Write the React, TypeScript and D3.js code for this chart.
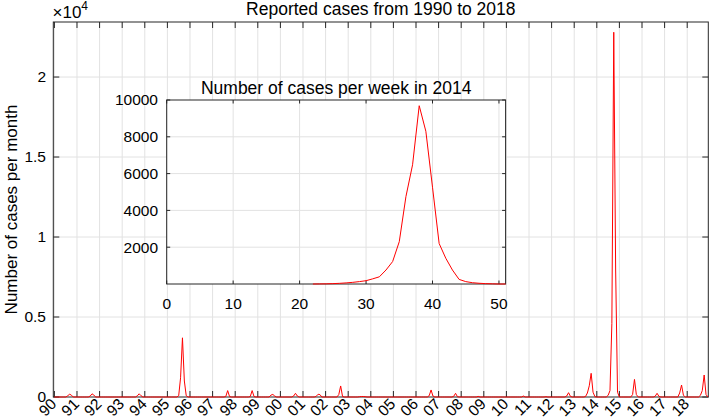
import React from 'react';
import * as d3 from 'd3';

// monthly reported cases, Jan 1990 .. Dec 2018 (one row per year)
const monthlyCases: number[] = [
  0, 0, 0, 0, 0, 0, 0, 60, 180, 120, 0, 0, // 1990
  0, 0, 0, 0, 0, 0, 0, 60, 200, 110, 0, 0, // 1991
  0, 0, 0, 0, 0, 0, 0, 0, 0, 0, 0, 0, // 1992
  0, 0, 0, 0, 0, 0, 0, 0, 70, 200, 80, 0, // 1993
  0, 0, 0, 0, 0, 0, 0, 0, 0, 0, 0, 0, // 1994
  0, 0, 0, 0, 0, 0, 80, 1200, 3700, 1000, 80, 0, // 1995
  0, 0, 0, 0, 0, 0, 0, 0, 0, 0, 0, 0, // 1996
  0, 0, 0, 0, 0, 0, 0, 30, 400, 30, 0, 0, // 1997
  0, 0, 0, 0, 0, 0, 0, 0, 30, 400, 30, 0, // 1998
  0, 0, 0, 0, 0, 0, 0, 120, 160, 60, 0, 0, // 1999
  0, 0, 0, 0, 0, 0, 0, 60, 230, 60, 0, 0, // 2000
  0, 0, 0, 0, 0, 0, 0, 40, 170, 150, 0, 0, // 2001
  0, 0, 0, 0, 0, 0, 0, 150, 690, 30, 0, 0, // 2002
  0, 0, 0, 0, 0, 0, 20, 30, 30, 20, 0, 0, // 2003
  0, 0, 0, 0, 0, 0, 0, 0, 0, 0, 0, 0, // 2004
  0, 0, 0, 0, 0, 0, 0, 0, 0, 0, 0, 0, // 2005
  0, 0, 0, 0, 0, 0, 0, 80, 440, 60, 0, 0, // 2006
  0, 0, 0, 0, 0, 0, 0, 0, 40, 230, 20, 0, // 2007
  0, 0, 0, 0, 0, 0, 0, 0, 0, 40, 0, 0, // 2008
  0, 0, 0, 0, 0, 0, 0, 0, 0, 0, 0, 0, // 2009
  0, 0, 0, 0, 0, 0, 0, 0, 0, 60, 0, 0, // 2010
  0, 0, 0, 0, 0, 0, 0, 0, 0, 20, 0, 0, // 2011
  0, 0, 0, 0, 0, 0, 0, 0, 60, 270, 40, 0, // 2012
  0, 0, 0, 0, 0, 0, 30, 250, 700, 1480, 300, 20, // 2013
  0, 0, 0, 0, 0, 0, 100, 400, 4600, 22800, 8000, 300, // 2014
  0, 0, 0, 0, 0, 0, 0, 150, 1100, 150, 0, 0, // 2015
  0, 0, 0, 0, 0, 0, 0, 50, 230, 40, 0, 0, // 2016
  0, 0, 0, 0, 0, 0, 0, 0, 250, 750, 100, 0, // 2017
  0, 0, 0, 0, 0, 0, 0, 100, 400, 1375, 150, 0, // 2018
];

const yearLabels = ['90', '91', '92', '93', '94', '95', '96', '97', '98', '99', '00', '01', '02', '03', '04',
  '05', '06', '07', '08', '09', '10', '11', '12', '13', '14', '15', '16', '17', '18'];
const mainYTicks = [0, 5000, 10000, 15000, 20000];
const mainYTickLabels = ['0', '0.5', '1', '1.5', '2'];

// weekly cases in 2014 (inset)
const weeks = [22, 23, 24, 25, 26, 27, 28, 29, 30, 31, 32, 33, 34, 35, 36, 37, 38, 39, 40, 41, 42, 43, 44, 45, 46, 47, 48, 49, 50, 51];
const weeklyCases = [0, 5, 10, 20, 36, 60, 90, 130, 180, 280, 390, 760, 1220, 2300, 4750, 6480, 9690, 8300, 5260, 2200, 1400, 760, 250, 130, 70, 40, 20, 10, 0, 0];
const insetXTicks = [0, 10, 20, 30, 40, 50];
const insetYTicks = [2000, 4000, 6000, 8000, 10000];

const W = 709;
const H = 420;
const font = '"Liberation Sans", Arial, Helvetica, sans-serif';
const axisColor = '#262626';
const gridColor = '#e2e2e2';

// main axes box
const m = { left: 53.3, right: 708.3, top: 22, bottom: 397 };
// inset axes box
const ins = { left: 166.7, right: 505.6, top: 100, bottom: 284 };

const App: React.FC = () => {
  const x = d3.scaleLinear().domain([-0.58, 347.2]).range([m.left, m.right]);
  const y = d3.scaleLinear().domain([0, 23440]).range([m.bottom, m.top]);
  const xi = d3.scaleLinear().domain([0, 51]).range([ins.left, ins.right]);
  const yi = d3.scaleLinear().domain([0, 10000]).range([ins.bottom, ins.top]);

  const mainLine = d3.line<number>().x((_, i) => x(i)).y(d => y(d))(monthlyCases) as string;
  const insetLine = d3
    .line<number>()
    .x((_, i) => xi(weeks[i]))
    .y(d => yi(d))(weeklyCases) as string;

  const tick = 6;
  const tickI = 3.5;

  return (
    <svg width={W} height={H} style={{ position: 'absolute', left: 0, top: 0, background: '#fff' }} fontFamily={font}>
      <defs>
        <clipPath id="mainClip">
          <rect x={m.left} y={m.top - 1} width={m.right - m.left} height={m.bottom - m.top + 2} />
        </clipPath>
      </defs>
      <rect x={0} y={0} width={W} height={H} fill="#fff" />

      {/* main grid */}
      {yearLabels.map((_, k) => (
        <line key={'gx' + k} x1={x(k * 12)} x2={x(k * 12)} y1={m.top} y2={m.bottom} stroke={gridColor} />
      ))}
      {mainYTicks.slice(1).map(v => (
        <line key={'gy' + v} x1={m.left} x2={m.right} y1={y(v)} y2={y(v)} stroke={gridColor} />
      ))}

      {/* main box + ticks */}
      <rect x={m.left} y={m.top} width={m.right - m.left} height={m.bottom - m.top} fill="none" stroke={axisColor} strokeWidth={1} />
      {yearLabels.map((_, k) => (
        <g key={'tx' + k} stroke={axisColor}>
          <line x1={x(k * 12)} x2={x(k * 12)} y1={m.bottom} y2={m.bottom - tick} />
          <line x1={x(k * 12)} x2={x(k * 12)} y1={m.top} y2={m.top + tick} />
        </g>
      ))}
      {mainYTicks.map(v => (
        <g key={'ty' + v} stroke={axisColor}>
          <line x1={m.left} x2={m.left + tick} y1={y(v)} y2={y(v)} />
          <line x1={m.right} x2={m.right - tick} y1={y(v)} y2={y(v)} />
        </g>
      ))}

      {/* main data */}
      <path d={mainLine} fill="none" stroke="#ff0000" strokeWidth={1} clipPath="url(#mainClip)" />

      {/* main tick labels */}
      {yearLabels.map((lab, k) => (
        <text
          key={'lx' + k}
          transform={`translate(${x(k * 12) + 3},${405}) rotate(-45)`}
          textAnchor="end"
          fontSize={15.5}
          fill="#000"
        >
          {lab}
        </text>
      ))}
      {mainYTicks.map((v, i) => (
        <text key={'ly' + v} x={46} y={y(v)} dy="0.35em" textAnchor="end" fontSize={15.5} fill="#000">
          {mainYTickLabels[i]}
        </text>
      ))}
      <text x={52.5} y={17.5} fontSize={17} fill="#000">
        ×10
        <tspan dy={-8} fontSize={12}>4</tspan>
      </text>
      <text x={(m.left + m.right) / 2} y={15} textAnchor="middle" fontSize={17.5} fill="#000">
        Reported cases from 1990 to 2018
      </text>
      <text
        transform={`translate(${17},${(m.top + m.bottom) / 2}) rotate(-90)`}
        textAnchor="middle"
        fontSize={17}
        fill="#000"
      >
        Number of cases per month
      </text>

      {/* inset */}
      <rect x={ins.left} y={ins.top} width={ins.right - ins.left} height={ins.bottom - ins.top} fill="#fff" />
      {insetXTicks.map(v => (
        <line key={'igx' + v} x1={xi(v)} x2={xi(v)} y1={ins.top} y2={ins.bottom} stroke={gridColor} />
      ))}
      {insetYTicks.slice(0, -1).map(v => (
        <line key={'igy' + v} x1={ins.left} x2={ins.right} y1={yi(v)} y2={yi(v)} stroke={gridColor} />
      ))}
      <rect x={ins.left} y={ins.top} width={ins.right - ins.left} height={ins.bottom - ins.top} fill="none" stroke={axisColor} />
      {insetXTicks.map(v => (
        <g key={'itx' + v} stroke={axisColor}>
          <line x1={xi(v)} x2={xi(v)} y1={ins.bottom} y2={ins.bottom - tickI} />
          <line x1={xi(v)} x2={xi(v)} y1={ins.top} y2={ins.top + tickI} />
        </g>
      ))}
      {insetYTicks.map(v => (
        <g key={'ity' + v} stroke={axisColor}>
          <line x1={ins.left} x2={ins.left + tickI} y1={yi(v)} y2={yi(v)} />
          <line x1={ins.right} x2={ins.right - tickI} y1={yi(v)} y2={yi(v)} />
        </g>
      ))}
      <path d={insetLine} fill="none" stroke="#ff0000" strokeWidth={1} />
      {insetXTicks.map(v => (
        <text key={'ilx' + v} x={xi(v)} y={309} textAnchor="middle" fontSize={15.5} fill="#000">
          {v}
        </text>
      ))}
      {insetYTicks.map(v => (
        <text key={'ily' + v} x={158} y={yi(v)} dy="0.35em" textAnchor="end" fontSize={15.5} fill="#000">
          {v}
        </text>
      ))}
      <text x={(ins.left + ins.right) / 2} y={94} textAnchor="middle" fontSize={17.5} fill="#000">
        Number of cases per week in 2014
      </text>
    </svg>
  );
};

export default App;
